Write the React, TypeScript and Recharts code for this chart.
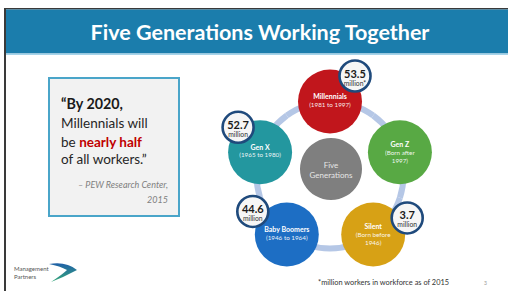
import React from 'react';
import { PieChart, Pie, Cell } from 'recharts';

// ---- data ----
const generations = ['Millennials', 'Gen Z', 'Silent', 'Baby Boomers', 'Gen X'];
const birthYears = [
  ['(1981 to 1997)'],
  ['(Born after', '1997)'],
  ['(Born before', '1946)'],
  ['(1946 to 1964)'],
  ['(1965 to 1980)'],
];
const workersMillions: (number | null)[] = [53.5, null, 3.7, 44.6, 52.7];
const workerUnits = ['million*', '', 'million', 'million', 'million'];
const centerLabel = ['Five', 'Generations'];
const titleText = 'Five Generations Working Together';
const footnote = '*million workers in workforce as of 2015';

// ---- styles ----
const GEN_COLORS = ['#c1161c', '#58a944', '#d7a115', '#1d6ec4', '#23979f'];
const BADGE_OFFSETS: [number, number][] = [[25, -25.5], [0, 0], [34, -16.5], [-34, -23], [-22, -25]];
const FONT = 'Lato, "Open Sans", sans-serif';
const RAD = Math.PI / 180;
const GEN_R = 32;

const ringData = generations.map((name, i) => ({ name, slot: 1, idx: i }));
const centerData = [{ name: centerLabel.join(' '), slot: 1 }];

const renderGeneration = (props: any) => {
  const { cx, cy, midAngle, innerRadius, outerRadius, index } = props;
  const r = (innerRadius + outerRadius) / 2;
  const x = cx + Math.cos(-midAngle * RAD) * r;
  const y = cy + Math.sin(-midAngle * RAD) * r;
  const lines = [generations[index], ...birthYears[index]];
  const n = lines.length;
  const spacing = 8.3;
  const start = y + (n === 3 ? 0 : -1.5) - ((n - 1) * spacing) / 2;
  const val = workersMillions[index];
  const [bdx, bdy] = BADGE_OFFSETS[index];
  return (
    <g key={`gen-${index}`}>
      <circle cx={x} cy={y} r={GEN_R} fill={GEN_COLORS[index]} />
      {lines.map((t, k) => (
        <text
          key={k}
          x={x}
          y={start + k * spacing}
          textAnchor="middle"
          dominantBaseline="central"
          fill="#fff"
          fontFamily={FONT}
          fontSize={k === 0 ? 7 : 6.3}
          fontWeight={k === 0 ? 700 : 400}
          opacity={k === 0 ? 1 : 0.9}
        >
          {t}
        </text>
      ))}
      {val !== null && (
        <g>
          <circle cx={x + bdx} cy={y + bdy} r={15.5} fill="#f6f6f6" stroke="#1f4a7c" strokeWidth={2.6} />
          <text
            x={x + bdx}
            y={y + bdy - 3}
            textAnchor="middle"
            dominantBaseline="central"
            fill="#1a1a1a"
            fontFamily={FONT}
            fontSize={11}
            fontWeight={700}
          >
            {val.toFixed(1)}
          </text>
          <text
            x={x + bdx}
            y={y + bdy + 6.5}
            textAnchor="middle"
            dominantBaseline="central"
            fill="#333"
            fontFamily={FONT}
            fontSize={6.8}
          >
            {workerUnits[index]}
          </text>
        </g>
      )}
    </g>
  );
};

const renderCenter = (props: any) => {
  const { cx, cy } = props;
  return (
    <g key="center">
      {centerLabel.map((t, k) => (
        <text
          key={k}
          x={cx}
          y={cy + 1 + (k - 0.5) * 10}
          textAnchor="middle"
          dominantBaseline="central"
          fill="#e6e6e6"
          fontFamily={FONT}
          fontSize={8}
        >
          {t}
        </text>
      ))}
    </g>
  );
};

export default function App() {
  return (
    <div style={{ position: 'absolute', left: 0, top: 0, width: 508, height: 291, background: '#fff', overflow: 'hidden' }}>
      <svg width={508} height={291} style={{ position: 'absolute', left: 0, top: 0 }}>
        <defs>
          <linearGradient id="swoosh" x1="0" y1="0" x2="0" y2="1">
            <stop offset="0%" stopColor="#1f5fa8" />
            <stop offset="100%" stopColor="#35a878" />
          </linearGradient>
        </defs>
        <rect x={0} y={0} width={508} height={291} fill="#fff" />
        <rect x={4} y={8} width={504} height={1.5} fill="#3a3a3a" />
        <rect x={4} y={8} width={2} height={283} fill="#3a3a3a" />
        <rect x={6} y={9.5} width={502} height={44} fill="#1b7dac" />
        <rect x={6} y={53.5} width={502} height={1.5} fill="#a6d4ea" />
        <text x={260} y={39.5} textAnchor="middle" fill="#fff" fontFamily={FONT} fontWeight={700} fontSize={21.5}>
          {titleText}
        </text>

        <rect x={49} y={78} width={130} height={138} fill="#f2f2f2" stroke="#4aa5c9" strokeWidth={2} />
        <text x={61} y={109} fontFamily={FONT} fontSize={14.3} fontWeight={700} fill="#1a1a1a">
          “By 2020,
        </text>
        <text x={61} y={128} fontFamily={FONT} fontSize={13.5} fill="#262626">
          Millennials will
        </text>
        <text x={61} y={147} fontFamily={FONT} fontSize={13.5} fill="#262626">
          be <tspan fontWeight={700} fill="#c00000">nearly half</tspan>
        </text>
        <text x={61} y={164} fontFamily={FONT} fontSize={13.5} fill="#262626">
          of all workers.”
        </text>
        <text x={168} y={188} textAnchor="end" fontFamily={FONT} fontSize={9} fontStyle="italic" fill="#808080">
          – PEW Research Center,
        </text>
        <text x={168} y={203} textAnchor="end" fontFamily={FONT} fontSize={9} fontStyle="italic" fill="#808080">
          2015
        </text>

        <text x={14} y={271} fontFamily={FONT} fontSize={6} fill="#555">Management</text>
        <text x={14} y={279} fontFamily={FONT} fontSize={6} fill="#555">Partners</text>
        <path d="M 49 264 Q 66 261 77 270 Q 64 277 51 282 Q 63 274 67 270 Q 60 266 49 264 Z" fill="url(#swoosh)" />

        <text x={318} y={285} fontFamily={FONT} fontSize={7.4} fill="#333">{footnote}</text>
        <text x={484} y={285} fontFamily={FONT} fontSize={5} fill="#999">3</text>
      </svg>

      <div style={{ position: 'absolute', left: 0, top: 0 }}>
        <PieChart width={508} height={291} margin={{ top: 0, right: 0, bottom: 0, left: 0 }}>
          <Pie
            data={centerData}
            dataKey="slot"
            cx={331}
            cy={169}
            innerRadius={0}
            outerRadius={31}
            stroke="none"
            fill="#7f7f7f"
            label={renderCenter}
            labelLine={false}
            isAnimationActive={false}
          />
          <Pie
            data={ringData}
            dataKey="slot"
            cx={330}
            cy={175}
            innerRadius={70.5}
            outerRadius={76.5}
            startAngle={126}
            endAngle={-234}
            stroke="none"
            label={renderGeneration}
            labelLine={false}
            isAnimationActive={false}
          >
            {ringData.map((d) => (
              <Cell key={d.name} fill="#b5c7e6" />
            ))}
          </Pie>
        </PieChart>
      </div>
    </div>
  );
}
